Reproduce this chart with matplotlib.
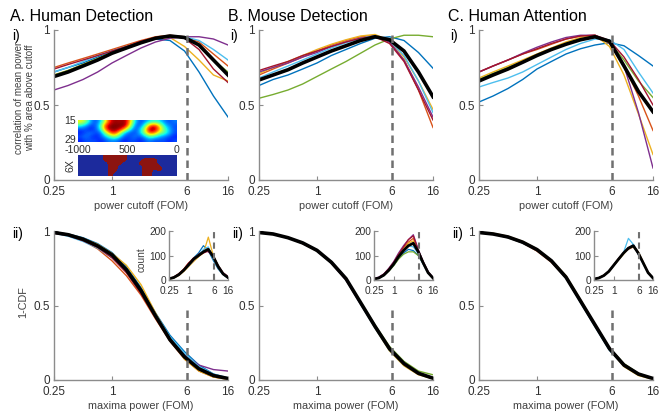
import numpy as np
import matplotlib
matplotlib.use("Agg")
import matplotlib.pyplot as plt
from matplotlib.colors import ListedColormap

plt.rcParams['font.family'] = ['Liberation Sans', 'DejaVu Sans']

# ---------------- data ----------------
x_fom = [0.25, 0.35, 0.5, 0.71, 1, 1.41, 2, 2.83, 4, 5.66, 8, 11.3, 16]
series_colors = ['#0072BD', '#D95319', '#EDB120', '#7E2F8E', '#77AC30', '#4DBEEE', '#A2142F']
cutoff = 6

# Row i) correlation of mean power with % area above cutoff
A_corr = [
    [0.72, 0.75, 0.78, 0.82, 0.86, 0.89, 0.92, 0.94, 0.93, 0.86, 0.72, 0.56, 0.42],
    [0.75, 0.78, 0.81, 0.84, 0.87, 0.90, 0.93, 0.955, 0.965, 0.955, 0.92, 0.84, 0.76],
    [0.70, 0.73, 0.77, 0.81, 0.85, 0.89, 0.92, 0.945, 0.95, 0.89, 0.80, 0.70, 0.66],
    [0.60, 0.63, 0.67, 0.72, 0.78, 0.83, 0.88, 0.92, 0.945, 0.955, 0.955, 0.94, 0.90],
    [0.70, 0.73, 0.77, 0.81, 0.85, 0.885, 0.92, 0.945, 0.955, 0.95, 0.90, 0.80, 0.72],
    [0.72, 0.75, 0.79, 0.83, 0.86, 0.89, 0.92, 0.945, 0.96, 0.955, 0.93, 0.87, 0.80],
    [0.74, 0.77, 0.80, 0.83, 0.86, 0.89, 0.925, 0.95, 0.96, 0.945, 0.87, 0.74, 0.65],
]
A_corr_mean = [0.69, 0.72, 0.76, 0.80, 0.845, 0.88, 0.915, 0.945, 0.96, 0.95, 0.90, 0.80, 0.70]

B_corr = [
    [0.63, 0.67, 0.70, 0.74, 0.78, 0.83, 0.87, 0.91, 0.945, 0.955, 0.93, 0.85, 0.745],
    [0.70, 0.74, 0.78, 0.82, 0.86, 0.90, 0.93, 0.955, 0.965, 0.92, 0.80, 0.60, 0.35],
    [0.71, 0.75, 0.79, 0.83, 0.87, 0.905, 0.935, 0.96, 0.97, 0.93, 0.82, 0.66, 0.47],
    [0.72, 0.75, 0.78, 0.82, 0.85, 0.89, 0.92, 0.945, 0.96, 0.92, 0.80, 0.62, 0.42],
    [0.545, 0.57, 0.60, 0.64, 0.69, 0.74, 0.79, 0.845, 0.90, 0.94, 0.965, 0.965, 0.955],
    [0.68, 0.72, 0.76, 0.80, 0.84, 0.88, 0.915, 0.945, 0.96, 0.93, 0.83, 0.66, 0.45],
    [0.73, 0.76, 0.79, 0.83, 0.86, 0.89, 0.92, 0.945, 0.955, 0.91, 0.79, 0.60, 0.40],
]
B_corr_mean = [0.667, 0.70, 0.735, 0.78, 0.82, 0.86, 0.895, 0.93, 0.955, 0.935, 0.86, 0.72, 0.555]

C_corr = [
    [0.52, 0.56, 0.61, 0.67, 0.74, 0.79, 0.84, 0.875, 0.90, 0.915, 0.895, 0.83, 0.76],
    [0.72, 0.76, 0.80, 0.84, 0.87, 0.905, 0.94, 0.96, 0.965, 0.91, 0.76, 0.56, 0.33],
    [0.68, 0.72, 0.76, 0.80, 0.84, 0.88, 0.92, 0.95, 0.965, 0.89, 0.70, 0.44, 0.17],
    [0.72, 0.76, 0.80, 0.845, 0.885, 0.92, 0.95, 0.965, 0.965, 0.92, 0.76, 0.45, 0.08],
    [0.67, 0.71, 0.75, 0.79, 0.83, 0.87, 0.91, 0.94, 0.955, 0.92, 0.80, 0.66, 0.55],
    [0.62, 0.65, 0.68, 0.72, 0.77, 0.82, 0.87, 0.91, 0.94, 0.935, 0.87, 0.72, 0.58],
    [0.72, 0.76, 0.80, 0.84, 0.875, 0.91, 0.94, 0.96, 0.965, 0.93, 0.82, 0.67, 0.50],
]
C_corr_mean = [0.66, 0.70, 0.74, 0.785, 0.83, 0.87, 0.905, 0.935, 0.955, 0.925, 0.76, 0.59, 0.455]

# Row ii) 1-CDF of maxima power
A_cdf = [
    [0.99, 0.98, 0.955, 0.915, 0.855, 0.76, 0.62, 0.45, 0.30, 0.19, 0.10, 0.04, 0.01],
    [0.985, 0.97, 0.935, 0.88, 0.80, 0.70, 0.57, 0.41, 0.26, 0.14, 0.06, 0.02, 0.005],
    [0.99, 0.98, 0.95, 0.91, 0.85, 0.77, 0.64, 0.45, 0.28, 0.14, 0.06, 0.02, 0.005],
    [0.99, 0.975, 0.945, 0.895, 0.83, 0.73, 0.59, 0.43, 0.28, 0.17, 0.10, 0.07, 0.06],
    [0.99, 0.975, 0.945, 0.90, 0.835, 0.735, 0.60, 0.43, 0.27, 0.15, 0.07, 0.03, 0.01],
    [0.985, 0.965, 0.93, 0.885, 0.82, 0.73, 0.60, 0.44, 0.29, 0.18, 0.09, 0.04, 0.015],
    [0.985, 0.97, 0.935, 0.89, 0.82, 0.72, 0.58, 0.42, 0.27, 0.15, 0.07, 0.03, 0.01],
]
A_cdf_mean = [0.99, 0.975, 0.945, 0.90, 0.84, 0.74, 0.60, 0.43, 0.27, 0.155, 0.075, 0.03, 0.01]

B_cdf = [
    [0.99, 0.98, 0.955, 0.92, 0.87, 0.795, 0.685, 0.52, 0.355, 0.20, 0.10, 0.04, 0.01],
    [0.99, 0.98, 0.955, 0.915, 0.865, 0.785, 0.675, 0.515, 0.36, 0.21, 0.11, 0.045, 0.012],
    [0.99, 0.98, 0.955, 0.92, 0.87, 0.79, 0.68, 0.515, 0.35, 0.195, 0.095, 0.035, 0.008],
    [0.99, 0.98, 0.955, 0.92, 0.87, 0.785, 0.67, 0.51, 0.355, 0.21, 0.11, 0.045, 0.012],
    [0.99, 0.98, 0.955, 0.92, 0.87, 0.79, 0.68, 0.525, 0.37, 0.225, 0.125, 0.06, 0.035],
    [0.99, 0.98, 0.955, 0.92, 0.865, 0.785, 0.675, 0.51, 0.35, 0.20, 0.105, 0.04, 0.01],
    [0.99, 0.98, 0.955, 0.92, 0.87, 0.79, 0.68, 0.52, 0.36, 0.21, 0.11, 0.045, 0.012],
]
B_cdf_mean = [0.99, 0.98, 0.955, 0.92, 0.87, 0.79, 0.68, 0.52, 0.36, 0.21, 0.11, 0.045, 0.012]

C_cdf = [
    [0.99, 0.98, 0.96, 0.92, 0.87, 0.795, 0.685, 0.52, 0.36, 0.20, 0.095, 0.035, 0.01],
    [0.99, 0.98, 0.955, 0.92, 0.865, 0.79, 0.685, 0.53, 0.37, 0.215, 0.105, 0.04, 0.01],
    [0.99, 0.985, 0.965, 0.93, 0.88, 0.805, 0.70, 0.54, 0.37, 0.205, 0.09, 0.03, 0.005],
    [0.99, 0.98, 0.96, 0.925, 0.875, 0.80, 0.695, 0.535, 0.37, 0.21, 0.10, 0.04, 0.01],
    [0.99, 0.98, 0.96, 0.925, 0.875, 0.80, 0.69, 0.53, 0.37, 0.215, 0.11, 0.045, 0.012],
    [0.99, 0.98, 0.955, 0.92, 0.87, 0.795, 0.685, 0.525, 0.36, 0.20, 0.10, 0.04, 0.01],
    [0.99, 0.98, 0.96, 0.925, 0.875, 0.80, 0.69, 0.535, 0.375, 0.215, 0.105, 0.04, 0.01],
]
C_cdf_mean = [0.99, 0.98, 0.96, 0.925, 0.875, 0.80, 0.69, 0.53, 0.37, 0.21, 0.10, 0.04, 0.01]

# Inset histograms (count of maxima per power bin)
A_hist = [
    [4, 9, 20, 42, 60, 90, 110, 140, 120, 80, 45, 22, 8],
    [5, 12, 25, 45, 70, 80, 95, 120, 130, 90, 50, 28, 12],
    [3, 8, 18, 35, 55, 75, 95, 110, 175, 100, 60, 30, 15],
    [6, 10, 20, 38, 60, 80, 105, 120, 115, 95, 60, 30, 15],
    [5, 11, 24, 42, 65, 88, 102, 118, 122, 92, 52, 24, 9],
    [4, 10, 22, 40, 58, 82, 98, 125, 135, 85, 50, 25, 10],
    [6, 12, 26, 44, 70, 90, 100, 110, 118, 100, 55, 25, 10],
]
A_hist_mean = [5, 10, 22, 40, 62, 85, 100, 115, 125, 95, 55, 25, 10]

B_hist = [
    [4, 8, 18, 38, 60, 90, 110, 125, 120, 100, 65, 28, 8],
    [5, 9, 22, 42, 68, 100, 130, 155, 170, 120, 72, 32, 9],
    [4, 8, 20, 40, 64, 95, 125, 150, 160, 118, 70, 30, 8],
    [6, 12, 25, 48, 75, 110, 140, 165, 185, 125, 75, 35, 10],
    [4, 8, 18, 36, 58, 85, 105, 115, 115, 100, 68, 30, 9],
    [4, 8, 20, 40, 62, 92, 118, 140, 135, 110, 68, 30, 8],
    [5, 10, 24, 46, 72, 105, 135, 165, 180, 122, 74, 33, 9],
]
B_hist_mean = [4, 8, 20, 40, 65, 95, 120, 140, 150, 115, 70, 30, 8]

C_hist = [
    [4, 8, 18, 34, 58, 85, 108, 130, 145, 105, 68, 30, 8],
    [4, 9, 19, 36, 62, 88, 112, 125, 135, 112, 72, 32, 9],
    [3, 8, 17, 33, 58, 82, 105, 128, 140, 115, 74, 30, 8],
    [4, 8, 18, 35, 60, 86, 110, 132, 138, 108, 70, 30, 8],
    [4, 8, 18, 36, 60, 84, 108, 130, 136, 110, 70, 30, 8],
    [4, 8, 18, 35, 62, 86, 112, 170, 145, 108, 66, 28, 7],
    [4, 9, 19, 36, 60, 86, 110, 128, 140, 112, 70, 30, 8],
]
C_hist_mean = [4, 8, 18, 35, 60, 85, 110, 130, 140, 110, 70, 30, 8]

# Example heatmap (power over time) and thresholded map
heat_power = [
    [0.65, 0.55, 0.30, 0.20, 0.30, 0.60, 0.90, 0.98, 0.95, 0.98, 0.75, 0.35, 0.20, 0.25, 0.35, 0.40, 0.35, 0.25, 0.20, 0.25],
    [0.40, 0.30, 0.20, 0.20, 0.40, 0.85, 1.00, 1.00, 1.00, 1.00, 0.65, 0.25, 0.20, 0.40, 0.80, 0.90, 0.65, 0.35, 0.25, 0.20],
    [0.20, 0.20, 0.15, 0.20, 0.35, 0.80, 1.00, 1.00, 0.95, 0.70, 0.40, 0.20, 0.30, 0.60, 1.00, 1.00, 0.75, 0.45, 0.30, 0.20],
    [0.15, 0.20, 0.25, 0.20, 0.20, 0.50, 0.80, 0.90, 0.60, 0.30, 0.20, 0.20, 0.30, 0.55, 0.85, 0.80, 0.55, 0.45, 0.30, 0.20],
    [0.20, 0.25, 0.20, 0.15, 0.20, 0.30, 0.45, 0.55, 0.35, 0.20, 0.20, 0.25, 0.20, 0.30, 0.45, 0.40, 0.30, 0.25, 0.20, 0.15],
    [0.15, 0.20, 0.20, 0.20, 0.15, 0.20, 0.25, 0.25, 0.20, 0.15, 0.20, 0.20, 0.15, 0.20, 0.25, 0.20, 0.20, 0.20, 0.15, 0.20],
]
heat_thresh = [
    [0, 0.7, 0, 0, 0, 1, 1, 1, 1, 1, 0, 0, 0, 0, 0, 0, 0, 0, 0, 0],
    [0, 0, 0, 0, 0, 1, 1, 1, 1, 1, 0, 0, 0, 1, 1, 1, 0, 0, 0, 0],
    [0, 0, 0, 0, 0, 0, 1, 1, 1, 0, 0, 0, 1, 1, 1, 1, 0, 0, 0, 0],
    [0, 0, 0, 0, 0, 0, 1, 1, 0, 0, 0, 0, 0, 1, 1, 1, 1, 0, 0, 0],
    [0, 0, 0, 0, 0, 0, 1, 1, 0, 0, 0, 0, 0, 1, 1, 0, 1, 0, 0, 0],
    [0, 0, 0, 0, 0, 0, 1, 0, 0, 0, 0, 0, 0, 1, 1, 0, 0, 0, 0, 0],
]

panel_titles = ['A. Human Detection', 'B. Mouse Detection', 'C. Human Attention']
xticks = [0.25, 1, 6, 16]
xtick_labels = ['0.25', '1', '6', '16']

# ---------------- figure ----------------
W, H = 668, 417
fig = plt.figure(figsize=(W / 100, H / 100), dpi=100)

AX_GRAY = '#8c8c8c'
TXT = '#303030'
LBL = '#404040'
LFS = 7.8


def px_axes(x0, y0, x1, y1):
    return fig.add_axes([x0 / W, 1 - y1 / H, (x1 - x0) / W, (y1 - y0) / H])


def style(ax, yt, ylim, fs=8.5, xpad=4.5, ypad=3):
    ax.set_xscale('log')
    ax.set_xlim(0.25, 16)
    ax.set_ylim(*ylim)
    ax.set_xticks(xticks)
    ax.set_xticklabels(xtick_labels)
    ax.xaxis.set_minor_locator(matplotlib.ticker.NullLocator())
    ax.set_yticks(yt)
    ax.set_yticklabels([('%g' % v) for v in yt])
    for s in ['top', 'right']:
        ax.spines[s].set_visible(False)
    for s in ['left', 'bottom']:
        ax.spines[s].set_color(AX_GRAY)
        ax.spines[s].set_linewidth(1.0)
    ax.tick_params(direction='in', length=3, width=0.8, color=AX_GRAY,
                   labelsize=fs, labelcolor=TXT)
    ax.tick_params(axis='x', pad=xpad)
    ax.tick_params(axis='y', pad=ypad)


lefts = [54, 259, 479]
inset_lefts = [169, 374, 594]
title_x = [10, 228, 448]
i_x = [12, 230, 450]
ii_x = [12, 232, 452]
corr_sets = [(A_corr, A_corr_mean), (B_corr, B_corr_mean), (C_corr, C_corr_mean)]
cdf_sets = [(A_cdf, A_cdf_mean), (B_cdf, B_cdf_mean), (C_cdf, C_cdf_mean)]
hist_sets = [(A_hist, A_hist_mean), (B_hist, B_hist_mean), (C_hist, C_hist_mean)]

for p in range(3):
    L = lefts[p]
    # top row
    ax = px_axes(L, 30, L + 174, 180)
    curves, mean = corr_sets[p]
    for c, col in zip(curves, series_colors):
        ax.plot(x_fom, c, color=col, lw=1.0)
    ax.plot(x_fom, mean, color='black', lw=2.6)
    ax.axvline(cutoff, color='#707070', lw=1.8, ls=(0, (3, 2)))
    style(ax, [0, 0.5, 1], (0, 1))
    ax.set_xlabel('power cutoff (FOM)', fontsize=LFS, color=LBL, labelpad=2)
    if p == 0:
        ax.set_ylabel('correlation of mean power\nwith % area above cutoff',
                      fontsize=7, color=LBL, linespacing=1.15)
        ax.yaxis.set_label_coords(-0.11, 0.55)

    # bottom row
    ax2 = px_axes(L, 231, L + 174, 380)
    curves, mean = cdf_sets[p]
    for c, col in zip(curves, series_colors):
        ax2.plot(x_fom, c, color=col, lw=1.0)
    ax2.plot(x_fom, mean, color='black', lw=2.6)
    ax2.axvline(cutoff, ymin=0, ymax=0.5, color='#707070', lw=1.8, ls=(0, (3, 2)))
    style(ax2, [0, 0.5, 1], (0, 1))
    ax2.set_xlabel('maxima power (FOM)', fontsize=LFS, color=LBL, labelpad=2)
    if p == 0:
        ax2.set_ylabel('1-CDF', fontsize=LFS, color=LBL)
        ax2.yaxis.set_label_coords(-0.15, 0.52)

    # inset histogram
    IL = inset_lefts[p]
    ax3 = px_axes(IL, 231, IL + 59, 280)
    curves, mean = hist_sets[p]
    for c, col in zip(curves, series_colors):
        ax3.plot(x_fom, c, color=col, lw=0.9)
    ax3.plot(x_fom, mean, color='black', lw=2.0)
    ax3.axvline(cutoff, color='#707070', lw=1.5, ls=(0, (3, 2)))
    style(ax3, [0, 100, 200], (0, 200), fs=7.3, xpad=4.2, ypad=2)
    if p == 0:
        ax3.set_ylabel('count', fontsize=7.3, color=LBL)
        ax3.yaxis.set_label_coords(-0.38, 0.42)

    # panel titles
    fig.text(title_x[p] / W, 1 - 21 / H, panel_titles[p], fontsize=11.5, color='black',
             ha='left', va='baseline')
    fig.text(i_x[p] / W, 1 - 36 / H, 'i)', fontsize=10, color='black', ha='left', va='center')
    fig.text(ii_x[p] / W, 1 - 234 / H, 'ii)', fontsize=10, color='black', ha='left', va='center')

# heatmap insets in panel A i)
axh = px_axes(78, 120, 177, 142)
axh.imshow(heat_power, cmap='jet', vmin=0, vmax=1, aspect='auto',
           interpolation='bicubic', interpolation_stage='data',
           extent=(-1000, 0, 31, 15))
axh.set_xticks([-1000, -500, 0])
axh.set_xticklabels(['-1000', '500', '0'])
axh.set_yticks([15, 29])
axh.set_yticklabels(['15', '29'])
axh.set_ylim(31, 15)
axh.tick_params(length=0, labelsize=7.6, labelcolor=TXT, pad=1.5)
axh.tick_params(axis='x', pad=2.5)
for s in axh.spines.values():
    s.set_visible(False)

axb = px_axes(78, 155, 177, 176)
bin_cmap = ListedColormap(['#1c2a9c', '#8c1410'])
axb.imshow(heat_thresh, cmap=bin_cmap, vmin=0, vmax=1, aspect='auto',
           interpolation='bicubic', interpolation_stage='data',
           extent=(-1000, 0, 29, 15))
axb.set_xticks([])
axb.set_yticks([])
axb.set_ylabel('6X', fontsize=7.6, color=TXT, labelpad=2)
for s in axb.spines.values():
    s.set_visible(False)

fig.savefig('out.png', dpi=100)
